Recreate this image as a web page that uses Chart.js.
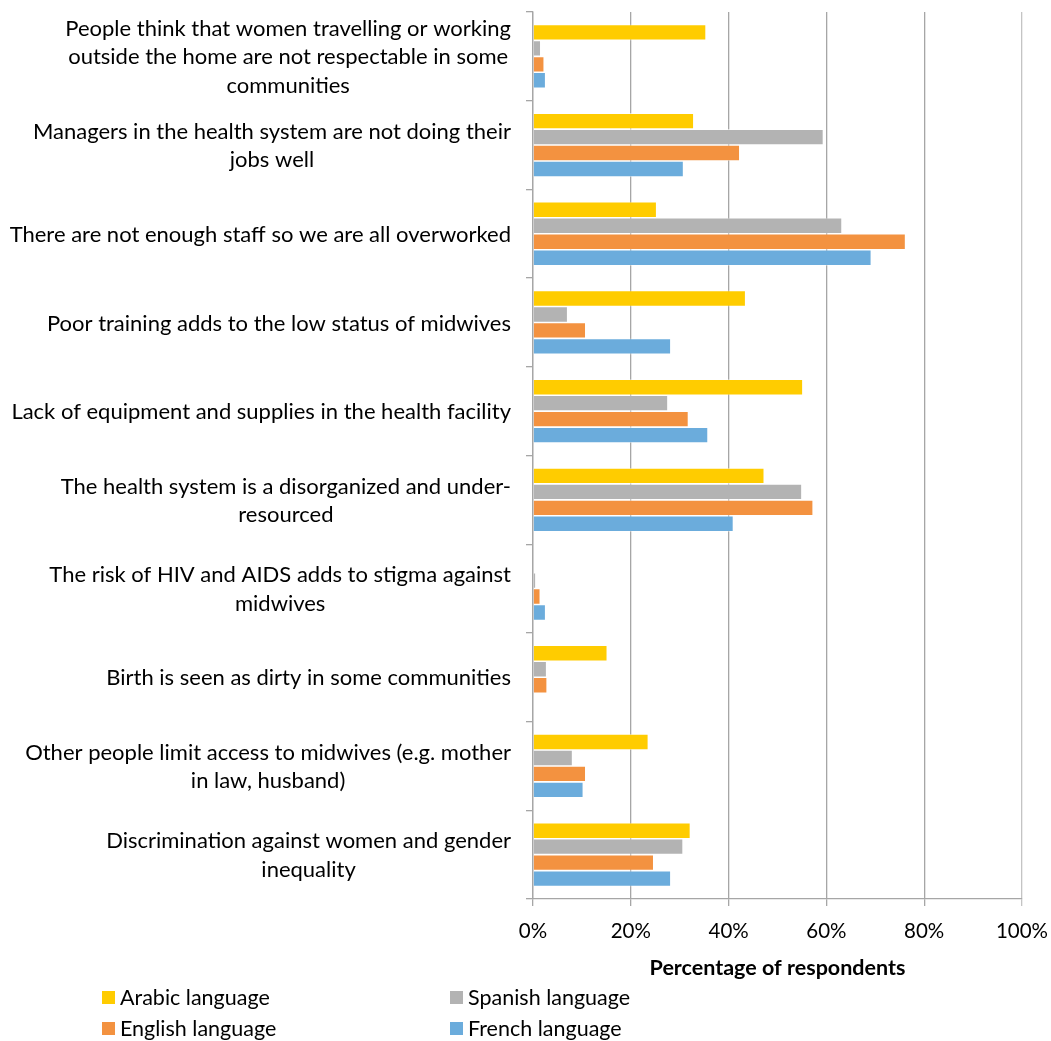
<!DOCTYPE html>
<html>
<head>
<meta charset="utf-8">
<script src="https://cdn.jsdelivr.net/npm/chart.js@4.4.1/dist/chart.umd.min.js"></script>
<style>
  html, body { margin: 0; padding: 0; background: #fff; }
  #wrap { position: relative; width: 1051px; height: 1041px; }
  #legend { position: absolute; left: 102px; top: 984px; display: grid;
            grid-template-columns: 348px 300px; row-gap: 5px;
            font: 21.5px Lato, sans-serif; color: #000; }
  .item { display: flex; align-items: center; height: 26px; }
  .sw { width: 13px; height: 13px; margin-right: 5px; }
</style>
</head>
<body>
<div id="wrap">
  <canvas id="chart" width="1051" height="1041"></canvas>
  <div id="legend"></div>
</div>
<script>
// category labels, already split into the lines used in the picture
const categories = [
  ["People think that women travelling or working", "outside the home are not respectable in some", "communities"],
  ["Managers in the health system are not doing their", "jobs well"],
  ["There are not enough staff so we are all overworked"],
  ["Poor training adds to the low status of midwives"],
  ["Lack of equipment and supplies in the health facility"],
  ["The health system is a disorganized and under-", "resourced"],
  ["The risk of HIV and AIDS adds to stigma against", "midwives"],
  ["Birth is seen as dirty in some communities"],
  ["Other people limit access to midwives (e.g. mother", "in law, husband)"],
  ["Discrimination against women and gender", "inequality"]
];

const arabic  = [35.4, 32.9, 25.3, 43.5, 55.2, 47.3, 0,   15.2, 23.6, 32.2];
const spanish = [1.6,  59.4, 63.2, 7.1,  27.6, 55.0, 0.6, 2.8,  8.1,  30.7];
const english = [2.3,  42.3, 76.2, 10.8, 31.8, 57.3, 1.5, 2.9,  10.8, 24.7];
const french  = [2.6,  30.8, 69.2, 28.2, 35.8, 41.0, 2.6, 0,    10.3, 28.2];

const xTicks = [0, 20, 40, 60, 80, 100];

const series = [
  { label: "Arabic language",  data: arabic,  color: "#FFCC00" },
  { label: "Spanish language", data: spanish, color: "#B3B3B3" },
  { label: "English language", data: english, color: "#F39240" },
  { label: "French language",  data: french,  color: "#6BACDC" }
];

const FONT = "Lato, sans-serif";

// draws the wrapped category labels: block right-aligned, lines centred
const categoryLabels = {
  id: "categoryLabels",
  afterDraw(chart) {
    const ctx = chart.ctx;
    const y = chart.scales.y;
    const right = 511;
    const lineH = 28.5;
    ctx.save();
    ctx.font = "22px " + FONT;
    ctx.fillStyle = "#000";
    ctx.textAlign = "center";
    ctx.textBaseline = "middle";
    categories.forEach((lines, i) => {
      const cy = y.getPixelForValue(i);
      const w = Math.max(...lines.map(l => ctx.measureText(l).width));
      const cx = right - w / 2;
      lines.forEach((l, k) => {
        ctx.fillText(l, cx, cy + (k - (lines.length - 1) / 2) * lineH + 1);
      });
    });
    ctx.restore();
  }
};

new Chart(document.getElementById("chart"), {
  type: "bar",
  data: {
    labels: categories.map(c => c.join(" ")),
    datasets: series.map(s => ({
      label: s.label,
      data: s.data,
      backgroundColor: s.color,
      borderColor: "rgba(255,255,255,0.6)",
      borderWidth: 0.8,
      borderSkipped: "start",
      categoryPercentage: 0.72,
      barPercentage: 1
    }))
  },
  options: {
    indexAxis: "y",
    responsive: false,
    animation: false,
    layout: { padding: { top: 12, right: 29, bottom: 58, left: 0 } },
    plugins: {
      legend: { display: false },
      tooltip: { enabled: false }
    },
    scales: {
      x: {
        min: 0,
        max: 100,
        afterBuildTicks: s => { s.ticks = xTicks.map(v => ({ value: v })); },
        afterFit: s => { s.height = 84; s.paddingLeft = 0; s.paddingRight = 0; },
        ticks: {
          callback: v => v + "%",
          color: "#000",
          font: { family: FONT, size: 20.5 },
          padding: 13
        },
        grid: {
          color: ctx => ctx.index === xTicks.length - 1 ? "#C4C4C4" : "#A6A6A6",
          lineWidth: 1.3,
          tickLength: 7
        },
        border: { display: true, color: "#A6A6A6", width: 1.3 },
        title: {
          display: true,
          text: "Percentage of respondents",
          color: "#000",
          font: { family: FONT, size: 21.5, weight: "bold" },
          padding: { top: 4, bottom: 2 }
        }
      },
      y: {
        type: "category",
        afterFit: s => { s.width = 533; },
        ticks: { display: false },
        grid: {
          offset: true,
          drawOnChartArea: false,
          color: "#A6A6A6",
          lineWidth: 1.3,
          tickLength: 7
        },
        border: { display: true, color: "#A6A6A6", width: 1.3 }
      }
    }
  },
  plugins: [categoryLabels]
});

// legend in two columns: Arabic / Spanish, English / French
const legend = document.getElementById("legend");
[0, 1, 2, 3].forEach(i => {
  const s = series[i];
  const el = document.createElement("div");
  el.className = "item";
  el.innerHTML = '<span class="sw" style="background:' + s.color + '"></span>' + s.label;
  legend.appendChild(el);
});
</script>
</body>
</html>
